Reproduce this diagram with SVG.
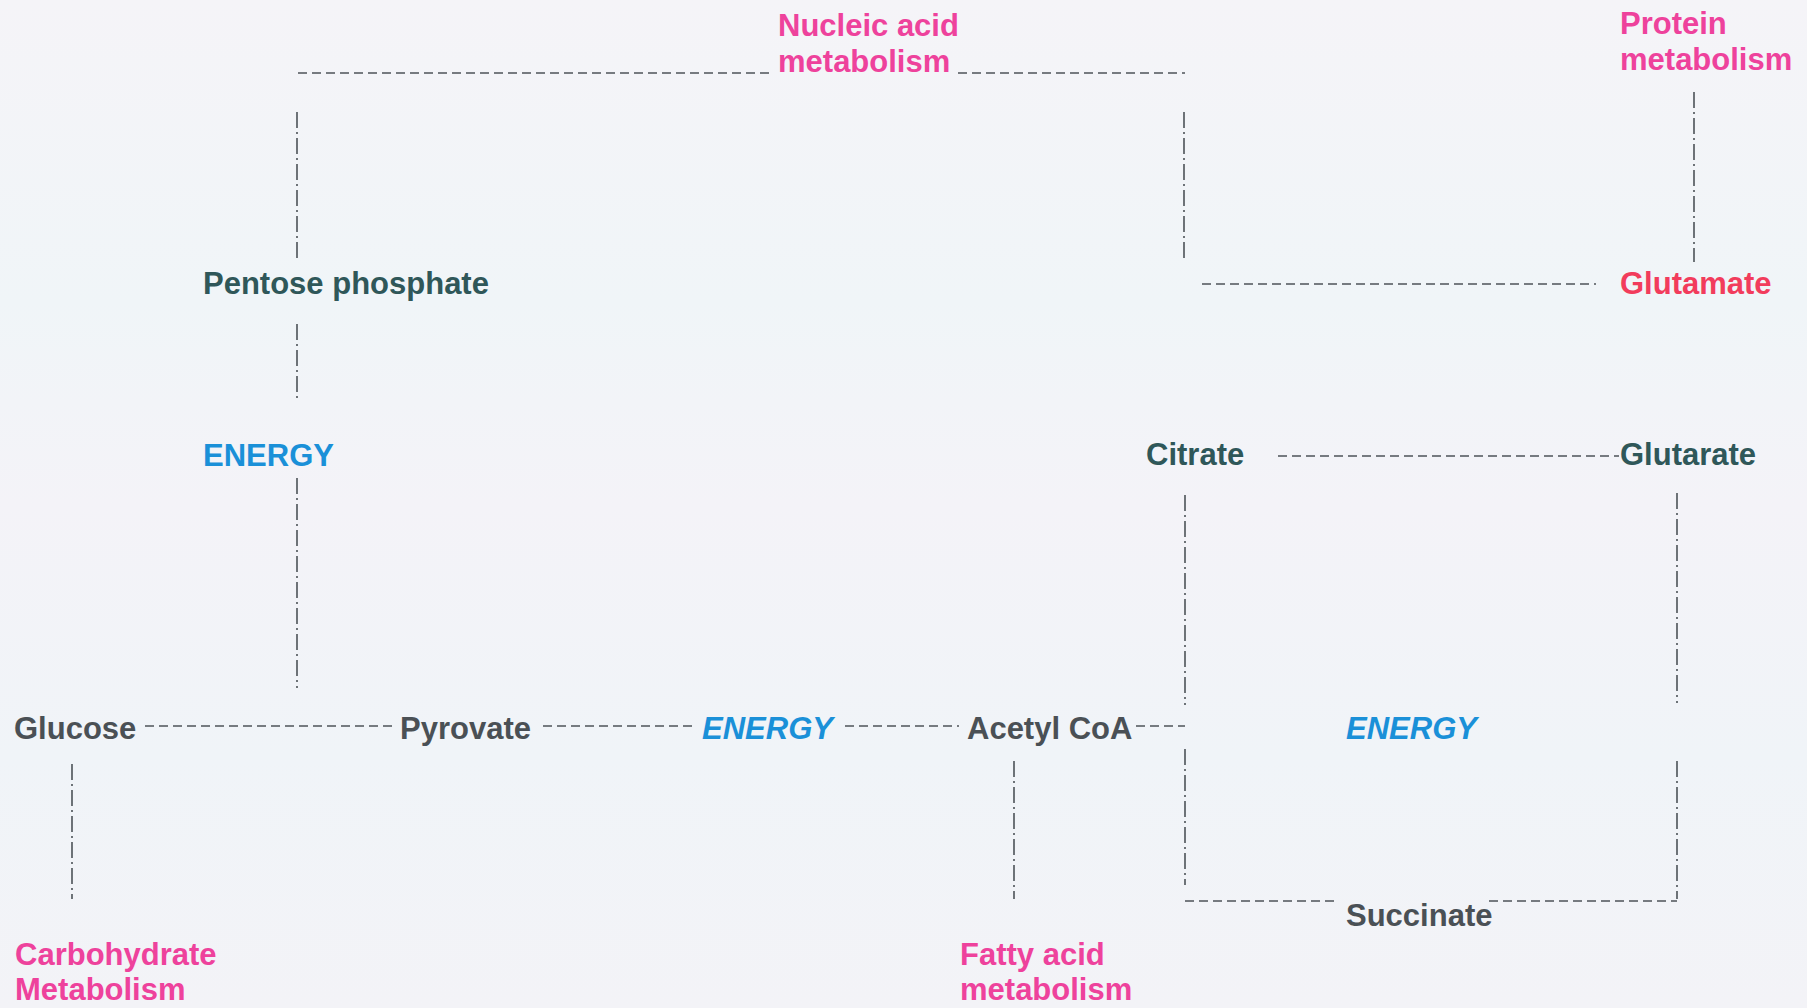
<svg xmlns="http://www.w3.org/2000/svg" width="1807" height="1008" viewBox="0 0 1807 1008">
  <defs>
    <linearGradient id="bg" x1="0" y1="0" x2="0" y2="1">
      <stop offset="0" stop-color="#f5f4f8"/>
      <stop offset="0.3" stop-color="#f0f5f8"/>
      <stop offset="0.5" stop-color="#f4f3f8"/>
      <stop offset="0.75" stop-color="#f0f4f8"/>
      <stop offset="1" stop-color="#f3f3f7"/>
    </linearGradient>
    <style>
      text { font-family: "Liberation Sans", Arial, sans-serif; font-weight: bold; font-size: 31px; }
      .grey { fill: #4a5055; }
      .teal { fill: #2f5759; }
      .pink { fill: #ee429c; }
      .red { fill: #f23c5c; }
      .blue { fill: #1a90d8; }
      .it { font-style: italic; }
      .h { stroke: #4d5358; stroke-width: 1.6; fill: none; stroke-dasharray: 9 5; }
      .v { stroke: #4d5358; stroke-width: 1.6; fill: none; stroke-dasharray: 16 4 2 4; }
    </style>
  </defs>
  <rect width="1807" height="1008" fill="url(#bg)"/>

  <g id="connectors">
    <!-- top nucleic acid line -->
    <line class="h" x1="298" y1="73" x2="770" y2="73"/>
    <line class="h" x1="958" y1="73" x2="1185" y2="73"/>
    <line class="v" x1="297" y1="112" x2="297" y2="259"/>
    <line class="v" x1="1184" y1="112" x2="1184" y2="259"/>
    <!-- protein -->
    <line class="v" x1="1694" y1="92" x2="1694" y2="262"/>
    <line class="h" x1="1202" y1="284" x2="1596" y2="284"/>
    <!-- pentose -->
    <line class="v" x1="297" y1="324" x2="297" y2="401"/>
    <line class="v" x1="297" y1="478" x2="297" y2="688"/>
    <!-- citrate glutarate -->
    <line class="h" x1="1278" y1="456" x2="1619" y2="456"/>
    <line class="v" x1="1185" y1="495" x2="1185" y2="705"/>
    <line class="v" x1="1677" y1="493" x2="1677" y2="703"/>
    <!-- main row -->
    <line class="h" x1="145" y1="726" x2="392" y2="726"/>
    <line class="h" x1="543" y1="726" x2="694" y2="726"/>
    <line class="h" x1="845" y1="726" x2="959" y2="726"/>
    <line class="h" x1="1136" y1="726" x2="1185" y2="726"/>
    <!-- lower verticals -->
    <line class="v" x1="72" y1="764" x2="72" y2="899"/>
    <line class="v" x1="1014" y1="761" x2="1014" y2="899"/>
    <line class="v" x1="1185" y1="749" x2="1185" y2="885"/>
    <line class="v" x1="1677" y1="761" x2="1677" y2="899"/>
    <!-- succinate -->
    <line class="h" x1="1185" y1="901" x2="1337" y2="901"/>
    <line class="h" x1="1489" y1="901" x2="1677" y2="901"/>
  </g>

  <g id="nucleic-acid-metabolism">
    <text class="pink" x="778" y="36">Nucleic acid</text>
    <text class="pink" x="778" y="72">metabolism</text>
  </g>
  <g id="protein-metabolism">
    <text class="pink" x="1620" y="34">Protein</text>
    <text class="pink" x="1620" y="70">metabolism</text>
  </g>
  <g id="pentose-phosphate">
    <text class="teal" x="203" y="294">Pentose phosphate</text>
  </g>
  <g id="glutamate">
    <text class="red" x="1620" y="294">Glutamate</text>
  </g>
  <g id="energy-1">
    <text class="blue" x="203" y="466">ENERGY</text>
  </g>
  <g id="citrate">
    <text class="teal" x="1146" y="465">Citrate</text>
  </g>
  <g id="glutarate">
    <text class="teal" x="1620" y="465">Glutarate</text>
  </g>
  <g id="glucose">
    <text class="grey" x="14" y="739">Glucose</text>
  </g>
  <g id="pyrovate">
    <text class="grey" x="400" y="739">Pyrovate</text>
  </g>
  <g id="energy-2">
    <text class="blue it" x="702" y="739">ENERGY</text>
  </g>
  <g id="acetyl-coa">
    <text class="grey" x="967" y="739">Acetyl CoA</text>
  </g>
  <g id="energy-3">
    <text class="blue it" x="1346" y="739">ENERGY</text>
  </g>
  <g id="succinate">
    <text class="grey" x="1346" y="926">Succinate</text>
  </g>
  <g id="carbohydrate-metabolism">
    <text class="pink" x="15" y="965">Carbohydrate</text>
    <text class="pink" x="15" y="1000">Metabolism</text>
  </g>
  <g id="fatty-acid-metabolism">
    <text class="pink" x="960" y="965">Fatty acid</text>
    <text class="pink" x="960" y="1000">metabolism</text>
  </g>
</svg>
